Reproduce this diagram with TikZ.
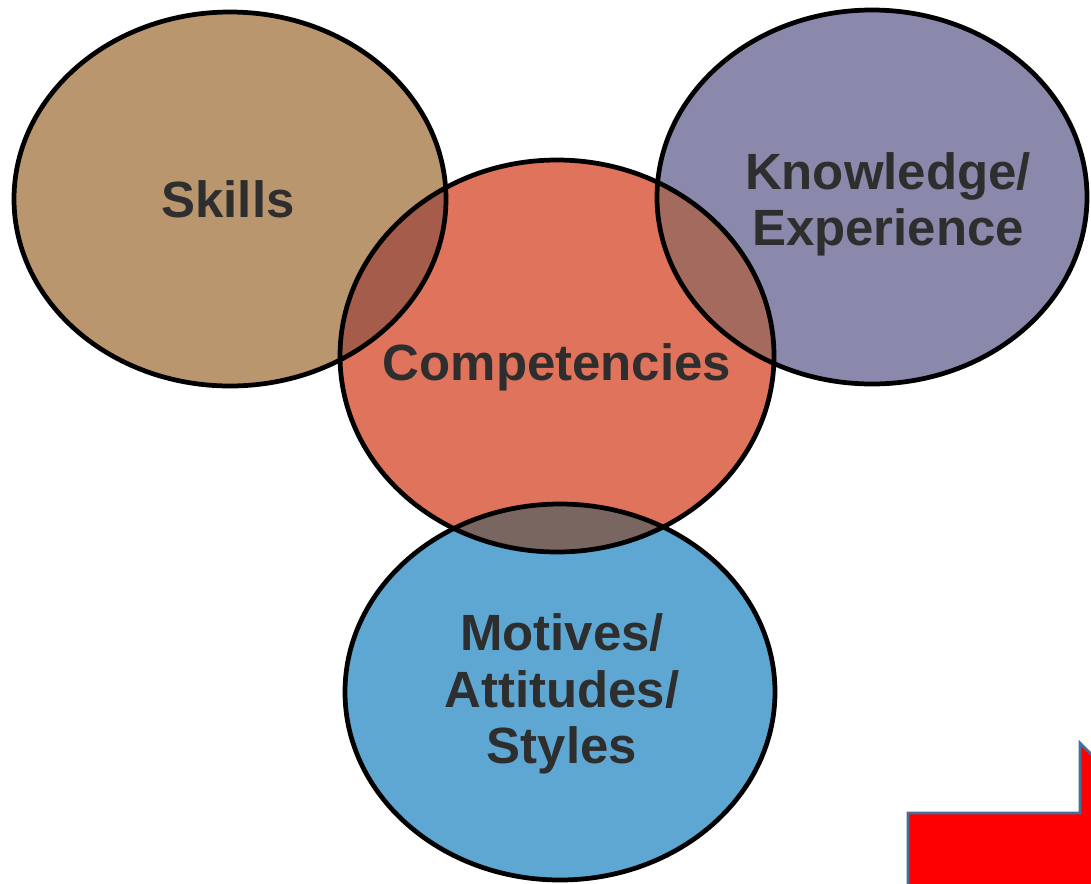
\documentclass[tikz,border=0pt]{standalone}
\usepackage{fontspec}
\setmainfont{Liberation Sans}
\definecolor{skillsc}{HTML}{BA966E}
\definecolor{knowc}{HTML}{8B89AB}
\definecolor{compc}{HTML}{E0735B}
\definecolor{motc}{HTML}{5EA7D3}
\definecolor{skcompc}{HTML}{A65C4B}
\definecolor{kncompc}{HTML}{A46A5E}
\definecolor{compmotc}{HTML}{7A6660}
\definecolor{textc}{HTML}{2E2E2E}
\definecolor{arrowline}{HTML}{41719C}

\tikzset{
  rim/.style={line width=2.7pt, black},
  label/.style={text=textc, font=\fontsize{29}{32}\selectfont\bfseries, align=center, inner sep=0pt}
}

\begin{document}
\begin{tikzpicture}[x=0.02cm, y=-0.02cm]
    \useasboundingbox (0,0) rectangle (1091,883);
    \fill[skillsc] (230,199) ellipse [x radius=216, y radius=187];
    \fill[knowc] (872,197) ellipse [x radius=215, y radius=187];
    \fill[compc] (557,356) ellipse [x radius=217, y radius=196];
    \fill[motc] (560,692) ellipse [x radius=215, y radius=188];
    % overlaps with the middle one
    \begin{scope}
    \clip (557,356) ellipse [x radius=217, y radius=196];
    \fill[skcompc] (230,199) ellipse [x radius=216, y radius=187];
    \fill[kncompc] (872,197) ellipse [x radius=215, y radius=187];
    \fill[compmotc] (560,692) ellipse [x radius=215, y radius=188];
    \end{scope}
    \draw[rim] (230,199) ellipse [x radius=216, y radius=187];
    \draw[rim] (872,197) ellipse [x radius=215, y radius=187];
    \draw[rim] (557,356) ellipse [x radius=217, y radius=196];
    \draw[rim] (560,692) ellipse [x radius=215, y radius=188];
    \node[label] (skills) at (228,199) {Skills};
    \node[label] (know) at (888,204) {Knowledge/\\Experience};
    \node[label] (comp) at (557,367) {Competencies};
    \node[label] (motives) at (562,694) {Motives/\\Attitudes/\\Styles};
    % cut-off arrow in the corner
    \begin{scope}
    \clip (0,0) rectangle (1091,883);
    \filldraw[fill=red, draw=arrowline, line width=1.6pt] (908,900) -- (908,813) -- (1080,813) -- (1080,743) -- (1130,793) -- (1130,900) -- cycle;
    \end{scope}
\end{tikzpicture}
\end{document}
